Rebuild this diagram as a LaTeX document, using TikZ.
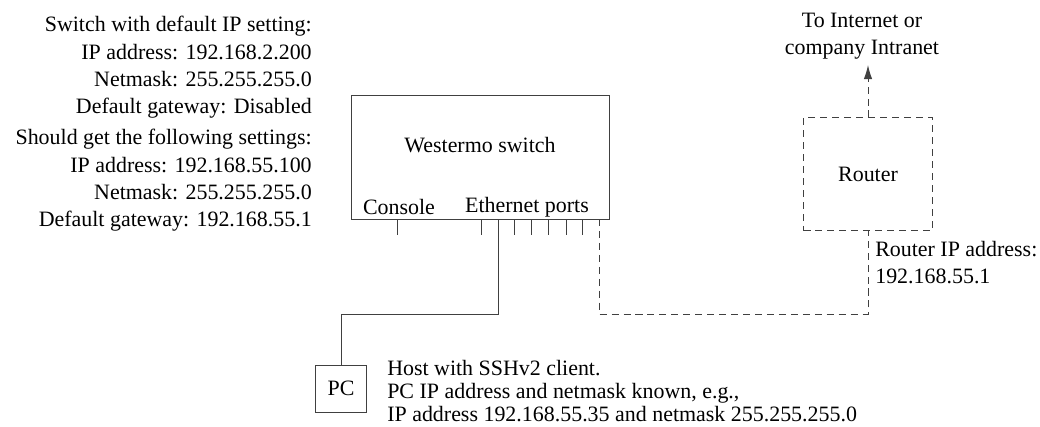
\documentclass[tikz,border=0pt]{standalone}
\usepackage{fontspec}
\setmainfont{Liberation Serif}
\usetikzlibrary{arrows.meta}
\definecolor{linecolor}{HTML}{404040}

\begin{document}
\begin{tikzpicture}[
    x=0.025cm, y=-0.025cm,
    every node/.style={font=\fontsize{15.6}{19.5}\selectfont, inner sep=0pt},
    device/.style={rectangle, draw=linecolor, line width=0.7pt},
    netlink/.style={draw=linecolor, line width=0.7pt, dash pattern=on 5pt off 3.5pt},
    cable/.style={draw=linecolor, line width=0.7pt}
]
\useasboundingbox (0,0) rectangle (1040,427);

% switch settings
\node (defaults) [anchor=north east, align=right] at (312,16)
    {Switch with default IP setting:\\ IP address: 192.168.2.200\\
     Netmask: 255.255.255.0\\ Default gateway: Disabled};
\node (wanted) [anchor=north east, align=right] at (312,129)
    {Should get the following settings:\\ IP address: 192.168.55.100\\
     Netmask: 255.255.255.0\\ Default gateway: 192.168.55.1};

% devices
\node (switch) [device, minimum width=6.425cm, minimum height=3.075cm] at (480.5,157.5) {};
\node (swname) at (480,145) {Westermo switch};
\node (console) at (399,207) {Console};
\node (ethernet) at (527,207) {Ethernet ports};
\node (router) [device, dash pattern=on 5pt off 3.5pt,
                minimum width=3.225cm, minimum height=2.8cm] at (868,174) {Router};
\node (pc) [device, minimum width=1.275cm, minimum height=1.175cm] at (341,388.5) {PC};

% ports
\foreach \x in {397,481,498,514,531,548,566,582}
    \draw[cable] (\x,219) -- (\x,235);
\coordinate (port2) at (498,219);
\coordinate (uplink) at (599,219);
\coordinate (pcbend) at (498,314);
\coordinate (rtbend) at (599,314);

% labels
\node (internet) [anchor=south, align=center] at (862,60)
    {To Internet or\\ company Intranet};
\node (routerip) [anchor=north west, align=left] at (875,241)
    {Router IP address:\\ 192.168.55.1};
\node (host) [anchor=north west, align=left,
              font=\fontsize{15.6}{16.2}\selectfont] at (387,360)
    {Host with SSHv2 client.\\ PC IP address and netmask known, e.g.,\\
     IP address 192.168.55.35 and netmask 255.255.255.0};

% connections
\draw[cable] (port2) -- (pcbend) -| (pc.north);
\draw[netlink] (uplink) -- (rtbend) -| (router.south);
\draw[netlink, -{Latex[length=10pt, width=6pt]}] (router.north) -- (router.north |- 0,65);
\end{tikzpicture}
\end{document}
